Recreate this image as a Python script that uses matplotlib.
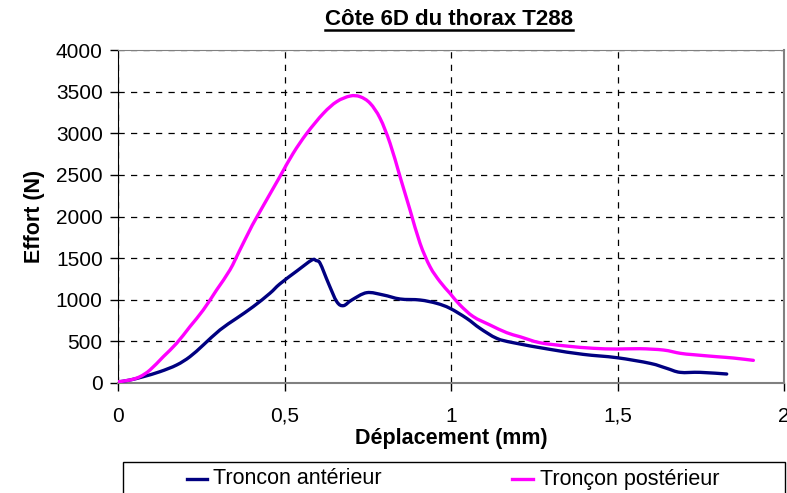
import matplotlib.pyplot as plt
from matplotlib.lines import Line2D
from matplotlib.patches import Rectangle, PathPatch
from matplotlib.path import Path

plt.rcParams['font.family'] = ['Liberation Sans', 'DejaVu Sans']

# Tronçon antérieur: displacement (mm) / force (N)
x_ant = [0.0, 0.036, 0.076, 0.126, 0.176, 0.216, 0.256, 0.306, 0.356, 0.406, 0.456,
         0.486, 0.537, 0.582, 0.595, 0.607, 0.632, 0.657, 0.677, 0.702, 0.747, 0.797,
         0.847, 0.907, 0.957, 0.997, 1.047, 1.087, 1.137, 1.187, 1.297, 1.397, 1.498,
         1.598, 1.648, 1.688, 1.748, 1.828]
y_ant = [12, 36, 76, 136, 216, 316, 456, 637, 777, 917, 1077,
         1190, 1345, 1477, 1470, 1437, 1197, 977, 929, 997, 1085, 1057,
         1009, 997, 957, 897, 777, 657, 537, 484, 404, 344, 304,
         236, 176, 128, 128, 108]

# Tronçon postérieur
x_post = [0.0, 0.036, 0.066, 0.096, 0.136, 0.176, 0.216, 0.256, 0.296, 0.336, 0.366,
          0.396, 0.417, 0.486, 0.526, 0.567, 0.617, 0.657, 0.697, 0.727, 0.757, 0.787,
          0.817, 0.847, 0.877, 0.907, 0.937, 0.967, 0.997, 1.027, 1.067, 1.117, 1.167,
          1.207, 1.267, 1.347, 1.427, 1.497, 1.568, 1.638, 1.688, 1.728, 1.798, 1.848,
          1.908]
y_post = [15, 36, 76, 156, 316, 477, 677, 877, 1117, 1357, 1598,
          1838, 1994, 2478, 2759, 2999, 3240, 3380, 3447, 3439, 3360, 3180,
          2879, 2478, 2078, 1678, 1397, 1217, 1077, 937, 797, 697, 605,
          556, 484, 444, 417, 408, 412, 396, 357, 340, 316, 300,
          272]

x_ticks = [0, 0.5, 1, 1.5, 2]
x_labels = ['0', '0,5', '1', '1,5', '2']
y_ticks = [0, 500, 1000, 1500, 2000, 2500, 3000, 3500, 4000]

navy = '#000080'
magenta = '#ff00ff'


def smooth_line(ax, xs, ys, color):
    # smoothed line (Catmull-Rom as cubic Bezier segments) through the points
    pts = list(zip(xs, ys))
    verts = [pts[0]]
    codes = [Path.MOVETO]
    n = len(pts)
    for i in range(n - 1):
        p0 = pts[max(i - 1, 0)]
        p1 = pts[i]
        p2 = pts[i + 1]
        p3 = pts[min(i + 2, n - 1)]
        c1 = (p1[0] + (p2[0] - p0[0]) / 6, p1[1] + (p2[1] - p0[1]) / 6)
        c2 = (p2[0] - (p3[0] - p1[0]) / 6, p2[1] - (p3[1] - p1[1]) / 6)
        verts += [c1, c2, p2]
        codes += [Path.CURVE4] * 3
    patch = PathPatch(Path(verts, codes), facecolor='none', edgecolor=color,
                      lw=2.4, capstyle='round', joinstyle='round', zorder=3)
    ax.add_patch(patch)


fig = plt.figure(figsize=(7.87, 4.93), dpi=100)
ax = fig.add_axes([118 / 787, 1 - 383 / 493, 666 / 787, 333 / 493])

smooth_line(ax, x_ant, y_ant, navy)
smooth_line(ax, x_post, y_post, magenta)

ax.set_xlim(0, 2)
ax.set_ylim(0, 4000)
ax.set_xticks(x_ticks)
ax.set_xticklabels(x_labels)
ax.set_yticks(y_ticks)
ax.tick_params(labelsize=15, length=6, width=1, color='black')
ax.tick_params(axis='x', pad=11)
ax.tick_params(axis='y', pad=5)
ax.grid(True, color='black', linestyle=(0, (5, 5)), linewidth=0.9)

ax.spines['left'].set_color('black')
ax.spines['bottom'].set_color('#808080')
ax.spines['bottom'].set_linewidth(1.5)
ax.spines['top'].set_color('#808080')
ax.spines['right'].set_color('#808080')
ax.spines['right'].set_linewidth(1.5)

ax.set_xlabel('Déplacement (mm)', fontsize=15.5, fontweight='bold', labelpad=2)
ax.set_ylabel('Effort (N)', fontsize=15.5, fontweight='bold', labelpad=8)

# underlined bold title
title = fig.text(449 / 787, 1 - 25 / 493, 'Côte 6D du thorax T288', ha='center',
                 va='baseline', fontsize=16, fontweight='bold')
fig.canvas.draw()
bb = title.get_window_extent().transformed(fig.transFigure.inverted())
fig.add_artist(Line2D([bb.x0, bb.x1], [1 - 30 / 493] * 2, color='black', lw=1.8,
                      transform=fig.transFigure))

# legend box running off the bottom edge
fig.add_artist(Rectangle((123 / 787, -0.05), (785 - 123) / 787, 0.05 + (493 - 462) / 493,
                         transform=fig.transFigure, fill=False, edgecolor='black', lw=1))
ly = 1 - 479 / 493
fig.add_artist(Line2D([187 / 787, 207 / 787], [ly, ly], color=navy, lw=2.4,
                      transform=fig.transFigure))
fig.text(213 / 787, ly, 'Troncon antérieur', fontsize=15.5, va='center')
fig.add_artist(Line2D([512 / 787, 533 / 787], [ly, ly], color=magenta, lw=2.4,
                      transform=fig.transFigure))
fig.text(540 / 787, ly, 'Tronçon postérieur', fontsize=15.5, va='center')

fig.savefig('out.png', dpi=100)
